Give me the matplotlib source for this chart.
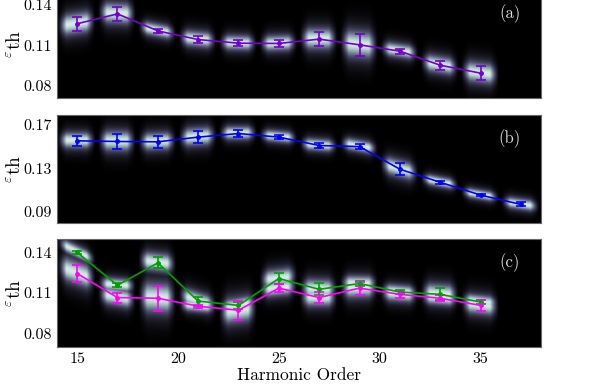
import matplotlib
matplotlib.use('Agg')
import matplotlib.pyplot as plt
import numpy as np

plt.rcParams['font.family'] = 'serif'
plt.rcParams['font.serif'] = ['cmr10']
plt.rcParams['mathtext.fontset'] = 'cm'
plt.rcParams['axes.formatter.use_mathtext'] = True

# ── Dados ────────────────────────────────────────────────────────────────
harm_a = [15, 17, 19, 21, 23, 25, 27, 29, 31, 33, 35]
eps_a = [0.1260, 0.1333, 0.1207, 0.1143, 0.1116, 0.1114, 0.1146, 0.1104, 0.1057, 0.0953, 0.0894]
err_a = [0.0053, 0.0052, 0.0015, 0.0026, 0.0022, 0.0026, 0.0052, 0.0080, 0.0018, 0.0033, 0.0050]

harm_b = [15, 17, 19, 21, 23, 25, 27, 29, 31, 33, 35, 37]
eps_b = [0.1553, 0.1547, 0.1544, 0.1587, 0.1620, 0.1587, 0.1510, 0.1500, 0.1293, 0.1173, 0.1056, 0.0970]
err_b = [0.0046, 0.0071, 0.0055, 0.0058, 0.0030, 0.0020, 0.0023, 0.0023, 0.0054, 0.0014, 0.0010, 0.0018]

harm_c = [15, 17, 19, 21, 23, 25, 27, 29, 31, 33, 35]
eps_c_verde = [0.1400, 0.1157, 0.1323, 0.1040, 0.1008, 0.1207, 0.1127, 0.1170, 0.1107, 0.1090, 0.1033]
err_c_verde = [0.0011, 0.0015, 0.0040, 0.0033, 0.0026, 0.0040, 0.0044, 0.0022, 0.0015, 0.0045, 0.0015]
eps_c_mag = [0.1244, 0.1066, 0.1061, 0.1002, 0.0972, 0.1136, 0.1066, 0.1136, 0.1090, 0.1061, 0.1008]
err_c_mag = [0.0065, 0.0037, 0.0094, 0.0011, 0.0072, 0.0031, 0.0040, 0.0048, 0.0026, 0.0022, 0.0042]

paineis = [
    dict(ylim=(0.071, 0.151), yticks=[0.08, 0.11, 0.14], rot='(a)',
         series=[(harm_a, eps_a, err_a, '#7300cc')]),
    dict(ylim=(0.080, 0.179), yticks=[0.09, 0.13, 0.17], rot='(b)',
         series=[(harm_b, eps_b, err_b, '#0000ff')]),
    dict(ylim=(0.070, 0.150), yticks=[0.08, 0.11, 0.14], rot='(c)',
         series=[(harm_c, eps_c_verde, err_c_verde, '#00a000'),
                 (harm_c, eps_c_mag, err_c_mag, '#ff00ff')]),
]

XMIN, XMAX = 14, 38


def mapa_distribuicao(series, ylim, nx=480, ny=220):
    """Imagem de fundo: gaussianas inclinadas em torno de cada ponto."""
    xs = np.linspace(XMIN, XMAX, nx)
    ys = np.linspace(ylim[0], ylim[1], ny)
    X, Y = np.meshgrid(xs, ys)
    img = np.zeros_like(X)
    for h, v, e, _ in series:
        h = np.asarray(h, float)
        v = np.asarray(v, float)
        e = np.asarray(e, float)
        incl = 0.6 * np.gradient(v, h)
        for hi, vi, ei, si in zip(h, v, e, incl):
            dx = X - hi
            env = np.clip((0.95 - np.abs(dx + 0.05)) / 0.45, 0, 1) ** 1.3
            sig = 0.45 * ei + 0.0022
            d = (Y - (vi + si * dx)) / sig
            g = (0.72 * np.exp(-0.5 * d ** 2)
                 + 0.28 * np.exp(-0.5 * (d / 2.0) ** 2)) * env
            img = np.maximum(img, g)
    return img


fig = plt.figure(figsize=(5.98, 3.88), dpi=100)
esq, larg, alt = 0.0953, 0.8094, 0.2784
fundos = [0.7474, 0.4253, 0.1057]

for k, (p, b) in enumerate(zip(paineis, fundos)):
    ax = fig.add_axes([esq, b, larg, alt])
    img = mapa_distribuicao(p['series'], p['ylim'])
    ax.imshow(img, extent=[XMIN, XMAX, p['ylim'][0], p['ylim'][1]],
              origin='lower', aspect='auto', cmap='bone', vmin=0, vmax=1.12,
              interpolation='bilinear')
    for h, v, e, cor in p['series']:
        ax.errorbar(h, v, yerr=e, color=cor, lw=1.2, marker='o', ms=2.5,
                    capsize=3.5, capthick=1.2, elinewidth=1.2)
    ax.set_xlim(XMIN, XMAX)
    ax.set_ylim(*p['ylim'])
    ax.set_yticks(p['yticks'])
    ax.set_yticklabels([f'{t:.2f}' for t in p['yticks']], fontsize=11.5)
    ax.set_xticks([15, 20, 25, 30, 35])
    if k == 2:
        ax.set_xticklabels(['15', '20', '25', '30', '35'], fontsize=11.5)
        ax.set_xlabel('Harmonic Order', fontsize=12.5, labelpad=1)
    else:
        ax.set_xticklabels([])
    ax.tick_params(length=0, pad=4)
    ax.set_ylabel(r'$^{\varepsilon}$th', fontsize=14, labelpad=-1)
    for s in ax.spines.values():
        s.set_color('#666666')
        s.set_linewidth(0.8)
    ax.text(0.935, 0.78, p['rot'], transform=ax.transAxes, color='#dddddd',
            fontsize=12, ha='center', va='center')

fig.savefig('out.png', dpi=100)
